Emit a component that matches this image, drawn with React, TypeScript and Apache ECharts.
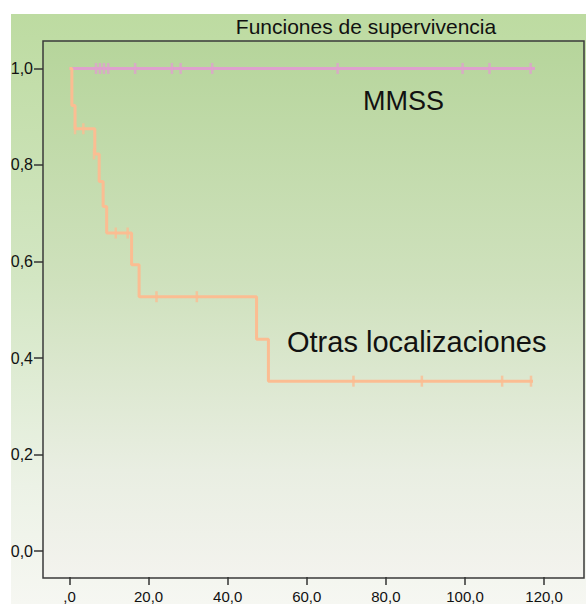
import React, { useEffect, useRef } from "react";
import * as echarts from "echarts";

// ---- data ----
const xTicks = [0, 20, 40, 60, 80, 100, 120];
const yTicks = [0, 0.2, 0.4, 0.6, 0.8, 1.0];

// "Otras localizaciones" (orange) Kaplan-Meier steps
const otrasTimes = [0, 0.6, 1.4, 6.4, 7.5, 8.5, 9.4, 15.7, 17.6, 47.3, 50.3, 117.2];
const otrasSurv = [1.0, 0.923, 0.875, 0.823, 0.766, 0.714, 0.659, 0.593, 0.527, 0.439, 0.352, 0.352];
const otrasCensorTimes = [1.4, 3.5, 6.2, 11.7, 14.7, 22.0, 32.2, 71.8, 89.1, 109.4, 116.7];
const otrasCensorSurv = [0.875, 0.875, 0.823, 0.659, 0.659, 0.527, 0.527, 0.352, 0.352, 0.352, 0.352];

// "MMSS" (pink)
const mmssTimes = [0, 117.7];
const mmssSurv = [1.0, 1.0];
const mmssCensorTimes = [6.7, 7.7, 8.7, 9.8, 16.6, 25.9, 28.1, 36.1, 67.8, 99.4, 106.2, 116.6];
const mmssCensorSurv = [1, 1, 1, 1, 1, 1, 1, 1, 1, 1, 1, 1];

const title = "Funciones de supervivencia";
const labelMMSS = "MMSS";
const labelOtras = "Otras localizaciones";

// axis extents (frame edges, in data units)
const xMin = -6.7;
const xMax = 130.1;
const yMin = -0.0538;
const yMax = 1.0569;

const ORANGE = "#fbbd92";
const PINK = "#dea1cd";
const FONT = "'Liberation Sans', Arial, Helvetica, sans-serif";

const fmt = (v: number) => (Math.abs(v) < 1e-9 ? ",0" : v.toFixed(1).replace(".", ","));
const fmtY = (v: number) => v.toFixed(1).replace(".", ",");

export default function App() {
  const ref = useRef<HTMLDivElement>(null);
  useEffect(() => {
    if (!ref.current) return;
    const chart = echarts.init(ref.current, undefined, { renderer: "svg" });
    const zip = (a: number[], b: number[]) => a.map((t, i) => [t, b[i]]);
    chart.setOption({
      animation: false,
      backgroundColor: "#ffffff",
      grid: { left: 43, right: 2, top: 41, bottom: 26, containLabel: false },
      xAxis: {
        type: "value",
        min: xMin,
        max: xMax,
        axisLine: { show: false, onZero: false },
        axisTick: {
          show: true,
          length: 8,
          customValues: xTicks,
          lineStyle: { color: "#333", width: 1.5 },
        },
        axisLabel: {
          margin: 12,
          color: "#111",
          fontSize: 15,
          fontFamily: FONT,
          customValues: xTicks,
          formatter: fmt,
        },
        splitLine: { show: false },
      },
      yAxis: {
        type: "value",
        min: yMin,
        max: yMax,
        axisLine: { show: false, onZero: false },
        axisTick: {
          show: true,
          length: 9,
          customValues: yTicks,
          lineStyle: { color: "#333", width: 1.5 },
        },
        axisLabel: {
          margin: 10,
          color: "#111",
          fontSize: 16,
          fontFamily: FONT,
          customValues: yTicks,
          formatter: fmtY,
        },
        splitLine: { show: false },
      },
      graphic: [
        {
          type: "rect",
          silent: true,
          z: -100,
          shape: { x: 11, y: 14, width: 575, height: 590 },
          style: {
            fill: new echarts.graphic.LinearGradient(0, 0, 0, 1, [
              { offset: 0, color: "#bddba1" },
              { offset: 0.45, color: "#d3e6c3" },
              { offset: 0.8, color: "#ecf2e6" },
              { offset: 1, color: "#f6f7f2" },
            ]),
          },
        },
        {
          type: "rect",
          silent: true,
          z: -90,
          shape: { x: 43, y: 41, width: 541, height: 537 },
          style: {
            fill: new echarts.graphic.LinearGradient(0, 0, 0, 1, [
              { offset: 0, color: "#b6d59b" },
              { offset: 0.45, color: "#cfe1bd" },
              { offset: 0.8, color: "#e9eee2" },
              { offset: 1, color: "#f3f3ee" },
            ]),
            stroke: "#3a3a3a",
            lineWidth: 1.5,
          },
        },
        {
          type: "text",
          silent: true,
          z: 50,
          x: 366,
          y: 26,
          style: {
            text: title,
            fontSize: 21,
            fontFamily: FONT,
            fill: "#111",
            align: "center",
            verticalAlign: "middle",
          },
        },
        {
          type: "text",
          silent: true,
          z: 50,
          x: 363,
          y: 101,
          style: {
            text: labelMMSS,
            fontSize: 27,
            fontFamily: FONT,
            fill: "#111",
            align: "left",
            verticalAlign: "middle",
          },
        },
        {
          type: "text",
          silent: true,
          z: 50,
          x: 287,
          y: 342,
          style: {
            text: labelOtras,
            fontSize: 29,
            fontFamily: FONT,
            fill: "#111",
            align: "left",
            verticalAlign: "middle",
          },
        },
      ],
      series: [
        {
          name: "MMSS",
          type: "line",
          data: zip(mmssTimes, mmssSurv),
          symbol: "none",
          clip: false,
          lineStyle: { color: PINK, width: 3 },
          z: 3,
        },
        {
          name: "MMSS censored",
          type: "scatter",
          data: zip(mmssCensorTimes, mmssCensorSurv),
          symbol: "rect",
          symbolSize: [2.5, 11],
          clip: false,
          itemStyle: { color: PINK },
          z: 3,
        },
        {
          name: "Otras localizaciones",
          type: "line",
          step: "end",
          data: zip(otrasTimes, otrasSurv),
          symbol: "none",
          clip: false,
          lineStyle: { color: ORANGE, width: 3 },
          z: 4,
        },
        {
          name: "Otras censored",
          type: "scatter",
          data: zip(otrasCensorTimes, otrasCensorSurv),
          symbol: "rect",
          symbolSize: [2.5, 11],
          clip: false,
          itemStyle: { color: ORANGE },
          z: 4,
        },
      ],
    });
    return () => chart.dispose();
  }, []);
  return (
    <div
      ref={ref}
      style={{ position: "fixed", left: 0, top: 0, width: 586, height: 604 }}
    />
  );
}
